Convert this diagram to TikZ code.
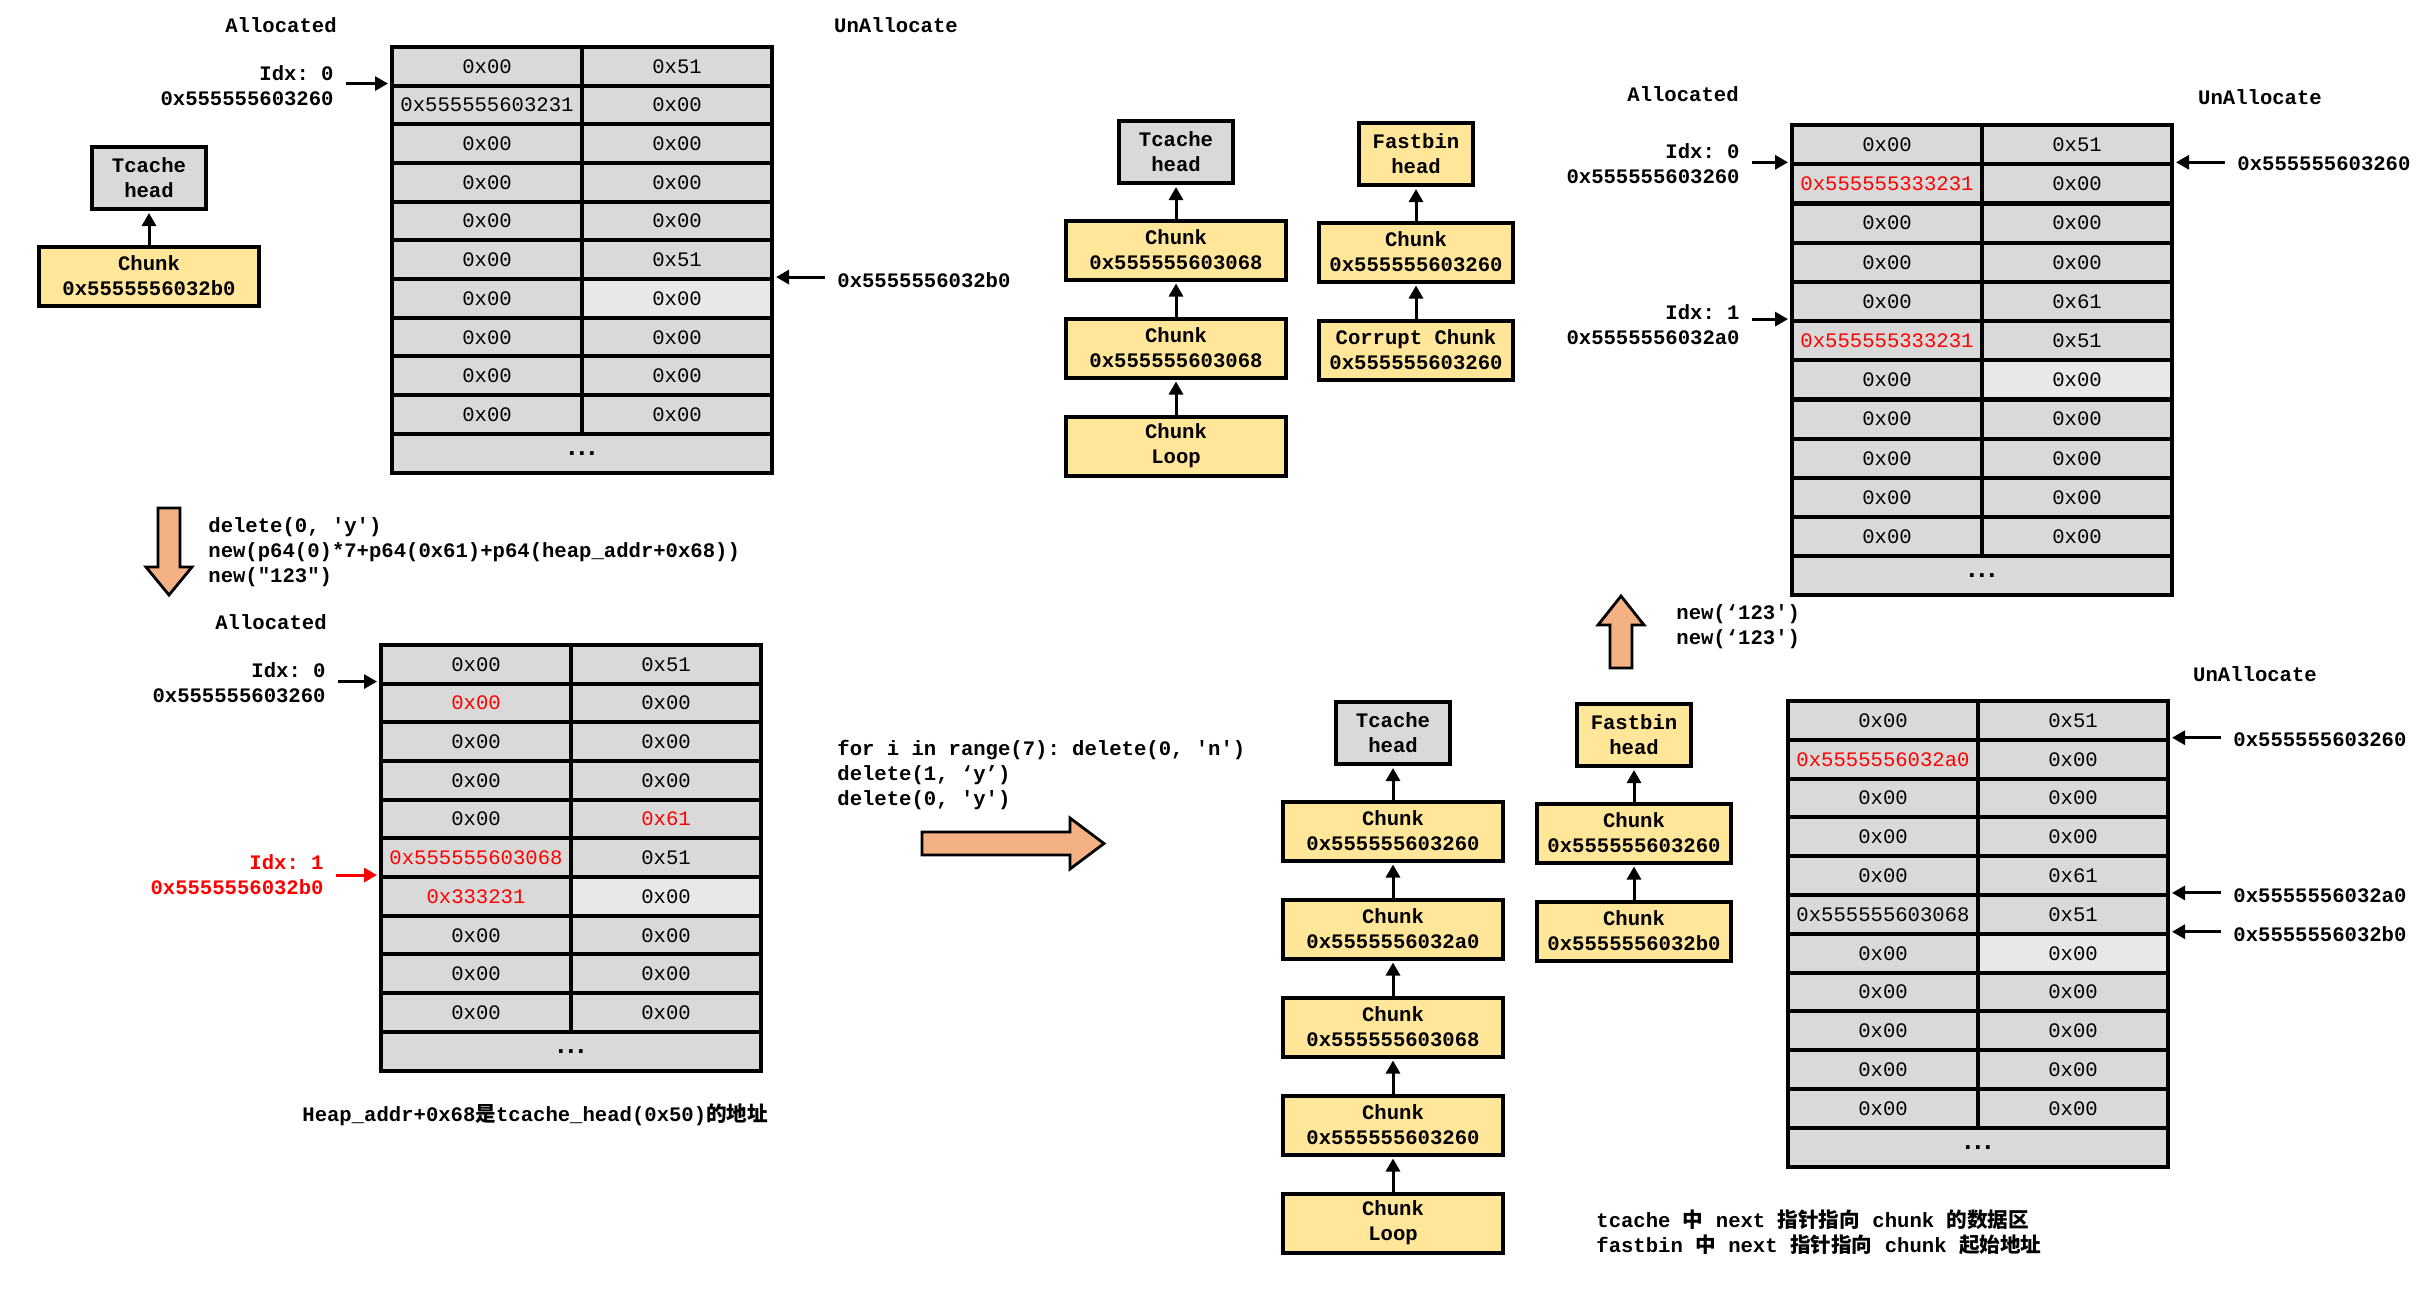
\documentclass[tikz,border=0pt]{standalone}
\usepackage{fontspec}
\setmonofont{Liberation Mono}
\renewcommand{\familydefault}{\ttdefault}
\newfontfamily\cjk{Noto Sans CJK SC}
\usepackage{xcolor}
\usetikzlibrary{arrows.meta,positioning}
\definecolor{cellgray}{HTML}{D9D9D9}
\definecolor{celllight}{HTML}{E8E8E8}
\definecolor{chunkyellow}{HTML}{FFE699}
\definecolor{arroworange}{HTML}{F4B183}
\newcommand{\basefont}{\fontsize{10.3}{12.5}\selectfont}
\newcommand{\hl}[1]{\textcolor{red}{#1}}
\newcommand{\zh}[1]{{\cjk #1}}
\newcommand{\more}{{\fontsize{13}{13}\selectfont\bfseries .\kern-2.8pt.\kern-2.8pt.}}

\begin{document}
\begin{tikzpicture}[x=0.5pt,y=-0.5pt,>={Triangle[length=6.5pt,width=7pt]},node distance=49pt,font=\basefont]
        \tikzstyle{memcell} = [draw, line width=2pt, fill=cellgray, minimum width=95pt, minimum height=19.5pt, inner sep=0pt]
        \tikzstyle{listhead} = [draw, line width=2pt, fill=cellgray, minimum width=57pt, minimum height=31pt, align=center, font=\basefont\bfseries]
        \tikzstyle{chunk} = [draw, line width=2pt, fill=chunkyellow, minimum width=110pt, minimum height=29.5pt, align=center, font=\basefont\bfseries]
        \tikzstyle{fchunk} = [chunk, minimum width=97pt]
        \tikzstyle{txt} = [inner sep=0pt, align=left, font=\basefont\bfseries]
        \tikzstyle{ptr} = [->, line width=1.5pt, shorten <=6pt, shorten >=1pt]
        \tikzstyle{bigarrow} = [draw, fill=arroworange, line width=1.4pt, line join=miter]

        \useasboundingbox (0,0) rectangle (2431,1298);

        % Heap before
        \begin{scope}[shift={(392,47)}]
            \foreach \l/\r/\c [count=\i] in {0x00/0x51/cellgray, 0x555555603231/0x00/cellgray,
                0x00/0x00/cellgray, 0x00/0x00/cellgray, 0x00/0x00/cellgray, 0x00/0x51/cellgray,
                0x00/0x00/celllight, 0x00/0x00/cellgray, 0x00/0x00/cellgray, 0x00/0x00/cellgray}{
                \node[memcell] (t1-\i-l) at (95,{(\i-0.5)*38.7}) {\l};
                \node[memcell, fill=\c] (t1-\i-r) at (285,{(\i-0.5)*38.7}) {\r};
            }
            \node[memcell, minimum width=190pt] (t1-end) at (190,{10.5*38.7}) {\more};
        \end{scope}
        \node[txt] (t1-alloc) at (281,25) {Allocated};
        \node[txt] (t1-unalloc) at (896,25) {UnAllocate};
        \node[txt, align=right, anchor=east] (t1-idx0) at (334,86) {Idx: 0\\0x555555603260};
        \node[txt, anchor=west] (t1-free) at (837,280) {0x5555556032b0};
        \draw[ptr] (t1-idx0.east |- t1-2-l.north west) -- (t1-2-l.north west);
        \draw[ptr] (t1-free.west |- t1-7-r.north east) -- (t1-7-r.north east);

        \node[listhead] (lth) at (149,178) {Tcache\\head};
        \node[chunk, below of=lth] (ltc) {Chunk\\0x5555556032b0};
        \path (ltc) edge[ptr, shorten <=0pt] (lth);

        % Step 1
        \draw[bigarrow] (158,508) -- (180,508) -- (180,567) -- (192,567) -- (169,595)
            -- (146,567) -- (158,567) -- cycle;
        \node[txt, anchor=west] (code1) at (208,552) {delete(0, 'y')\\new(p64(0)*7+p64(0x61)+p64(heap\_addr+0x68))\\new("123")};

        % Heap after overwrite
        \begin{scope}[shift={(381,645)}]
            \foreach \l/\r/\c [count=\i] in {0x00/0x51/cellgray, \hl{0x00}/0x00/cellgray,
                0x00/0x00/cellgray, 0x00/0x00/cellgray, 0x00/\hl{0x61}/cellgray,
                \hl{0x555555603068}/0x51/cellgray, \hl{0x333231}/0x00/celllight,
                0x00/0x00/cellgray, 0x00/0x00/cellgray, 0x00/0x00/cellgray}{
                \node[memcell] (t2-\i-l) at (95,{(\i-0.5)*38.7}) {\l};
                \node[memcell, fill=\c] (t2-\i-r) at (285,{(\i-0.5)*38.7}) {\r};
            }
            \node[memcell, minimum width=190pt] (t2-end) at (190,{10.5*38.7}) {\more};
        \end{scope}
        \node[txt] (t2-alloc) at (271,622) {Allocated};
        \node[txt, align=right, anchor=east] (t2-idx0) at (326,683) {Idx: 0\\0x555555603260};
        \node[txt, align=right, anchor=east, text=red] (t2-idx1) at (324,875) {Idx: 1\\0x5555556032b0};
        \draw[ptr] (t2-idx0.east |- t2-2-l.north west) -- (t2-2-l.north west);
        \draw[ptr, red] (t2-idx1.east |- t2-7-l.north west) -- (t2-7-l.north west);
        \node[txt, anchor=west] (note1) at (302,1115) {Heap\_addr+0x68\zh{是}tcache\_head(0x50)\zh{的地址}};

        % Bins after overwrite
        \node[listhead] (th1) at (1176,152) {Tcache\\head};
        \node[chunk, below of=th1] (tc1) {Chunk\\0x555555603068};
        \node[chunk, below of=tc1] (tc2) {Chunk\\0x555555603068};
        \node[chunk, below of=tc2] (tc3) {Chunk\\Loop};
        \node[listhead, fill=chunkyellow] (fh1) at (1416,154) {Fastbin\\head};
        \node[fchunk, below of=fh1] (fc1) {Chunk\\0x555555603260};
        \node[fchunk, below of=fc1] (fc2) {Corrupt Chunk\\0x555555603260};
        \path (tc1) edge[ptr, shorten <=0pt] (th1);
        \path (tc2) edge[ptr, shorten <=0pt] (tc1);
        \path (tc3) edge[ptr, shorten <=0pt] (tc2);
        \path (fc1) edge[ptr, shorten <=0pt] (fh1);
        \path (fc2) edge[ptr, shorten <=0pt] (fc1);

        % Step 2
        \node[txt, anchor=west] (code2) at (837,775) {for i in range(7): delete(0, 'n')\\delete(1, ‘y’)\\delete(0, 'y')};
        \draw[bigarrow] (922,832) -- (1070,832) -- (1070,818) -- (1104,843.5) -- (1070,869)
            -- (1070,855) -- (922,855) -- cycle;

        % Bins after free
        \node[listhead] (th2) at (1393,733) {Tcache\\head};
        \node[chunk, below of=th2] (tb1) {Chunk\\0x555555603260};
        \node[chunk, below of=tb1] (tb2) {Chunk\\0x5555556032a0};
        \node[chunk, below of=tb2] (tb3) {Chunk\\0x555555603068};
        \node[chunk, below of=tb3] (tb4) {Chunk\\0x555555603260};
        \node[chunk, below of=tb4] (tb5) {Chunk\\Loop};
        \node[listhead, fill=chunkyellow] (fh2) at (1634,735) {Fastbin\\head};
        \node[fchunk, below of=fh2] (fb1) {Chunk\\0x555555603260};
        \node[fchunk, below of=fb1] (fb2) {Chunk\\0x5555556032b0};
        \path (tb1) edge[ptr, shorten <=0pt] (th2);
        \path (tb2) edge[ptr, shorten <=0pt] (tb1);
        \path (tb3) edge[ptr, shorten <=0pt] (tb2);
        \path (tb4) edge[ptr, shorten <=0pt] (tb3);
        \path (tb5) edge[ptr, shorten <=0pt] (tb4);
        \path (fb1) edge[ptr, shorten <=0pt] (fh2);
        \path (fb2) edge[ptr, shorten <=0pt] (fb1);

        % Heap after free
        \begin{scope}[shift={(1788,701)}]
            \foreach \l/\r/\c [count=\i] in {0x00/0x51/cellgray, \hl{0x5555556032a0}/0x00/cellgray,
                0x00/0x00/cellgray, 0x00/0x00/cellgray, 0x00/0x61/cellgray,
                0x555555603068/0x51/cellgray, 0x00/0x00/celllight, 0x00/0x00/cellgray,
                0x00/0x00/cellgray, 0x00/0x00/cellgray, 0x00/0x00/cellgray}{
                \node[memcell] (t4-\i-l) at (95,{(\i-0.5)*38.8}) {\l};
                \node[memcell, fill=\c] (t4-\i-r) at (285,{(\i-0.5)*38.8}) {\r};
            }
            \node[memcell, minimum width=190pt] (t4-end) at (190,{11.5*38.8}) {\more};
        \end{scope}
        \node[txt] (t4-unalloc) at (2255,674) {UnAllocate};
        \node[txt, anchor=west] (t4-f0) at (2233,740) {0x555555603260};
        \node[txt, anchor=west] (t4-f1) at (2233,896) {0x5555556032a0};
        \node[txt, anchor=west] (t4-f2) at (2233,934) {0x5555556032b0};
        \draw[ptr] (t4-f0.west |- t4-2-r.north east) -- (t4-2-r.north east);
        \draw[ptr] (t4-f1.west |- t4-6-r.north east) -- (t4-6-r.north east);
        \draw[ptr] (t4-f2.west |- t4-7-r.north east) -- (t4-7-r.north east);
        \node[txt, anchor=west] (note2) at (1596,1232) {tcache \zh{中} next \zh{指针指向} chunk \zh{的数据区}\\fastbin \zh{中} next \zh{指针指向} chunk \zh{起始地址}};

        % Step 3
        \draw[bigarrow] (1610,668) -- (1610,625) -- (1598,625) -- (1621,596) -- (1644,625)
            -- (1632,625) -- (1632,668) -- cycle;
        \node[txt, anchor=west] (code3) at (1676,627) {new(‘123')\\new(‘123')};

        % Heap after malloc
        \begin{scope}[shift={(1792,125)}]
            \foreach \l/\r/\c [count=\i] in {0x00/0x51/cellgray, \hl{0x555555333231}/0x00/cellgray,
                0x00/0x00/cellgray, 0x00/0x00/cellgray, 0x00/0x61/cellgray,
                \hl{0x555555333231}/0x51/cellgray, 0x00/0x00/celllight, 0x00/0x00/cellgray,
                0x00/0x00/cellgray, 0x00/0x00/cellgray, 0x00/0x00/cellgray}{
                \node[memcell] (t3-\i-l) at (95,{(\i-0.5)*39.2}) {\l};
                \node[memcell, fill=\c] (t3-\i-r) at (285,{(\i-0.5)*39.2}) {\r};
            }
            \node[memcell, minimum width=190pt] (t3-end) at (190,{11.5*39.2}) {\more};
        \end{scope}
        \node[txt] (t3-alloc) at (1683,94) {Allocated};
        \node[txt] (t3-unalloc) at (2260,97) {UnAllocate};
        \node[txt, align=right, anchor=east] (t3-idx0) at (1740,164) {Idx: 0\\0x555555603260};
        \node[txt, align=right, anchor=east] (t3-idx1) at (1740,325) {Idx: 1\\0x5555556032a0};
        \node[txt, anchor=west] (t3-f0) at (2237,164) {0x555555603260};
        \draw[ptr] (t3-idx0.east |- t3-2-l.north west) -- (t3-2-l.north west);
        \draw[ptr] (t3-idx1.east |- t3-6-l.north west) -- (t3-6-l.north west);
        \draw[ptr] (t3-f0.west |- t3-2-r.north east) -- (t3-2-r.north east);
    \end{tikzpicture}
\end{document}
